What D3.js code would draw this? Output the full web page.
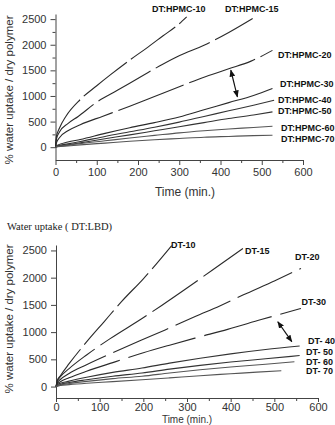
<!DOCTYPE html>
<html><head><meta charset="utf-8">
<script src="https://cdn.jsdelivr.net/npm/d3@7"></script>
<style>html,body{margin:0;padding:0;background:#fff;} svg{display:block;}</style>
</head><body>
<svg id="chart" width="335" height="425"></svg>
<script>
// ---------- data (time in min, % water uptake / dry polymer) ----------
const hpmcNames = ["DT:HPMC-10","DT:HPMC-15","DT:HPMC-20","DT:HPMC-30","DT:HPMC-40","DT:HPMC-50","DT:HPMC-60","DT:HPMC-70"];
const hpmc10 = [[0,0],[2,200],[10,380],[25,600],[60,930],[100,1200],[132,1406],[180,1700],[220,1930],[260,2170],[300,2410],[318,2545]];
const hpmc15 = [[0,0],[2,150],[10,300],[30,460],[55,600],[100,880],[150,1110],[212,1400],[260,1620],[301,1790],[360,1990],[420,2240],[478,2513]];
const hpmc20 = [[0,0],[2,80],[10,190],[30,320],[60,440],[115,605],[180,800],[240,990],[300,1180],[365,1380],[420,1530],[474,1680],[526,1890]];
const hpmc30 = [[0,0],[5,40],[30,100],[60,150],[120,270],[180,380],[240,480],[300,590],[360,730],[420,870],[480,1010],[526,1146]];
const hpmc40 = [[0,0],[5,25],[30,65],[60,110],[120,210],[180,300],[240,390],[300,490],[360,600],[420,710],[480,820],[530,918]];
const hpmc50 = [[0,0],[5,15],[30,45],[60,85],[120,165],[180,240],[240,320],[300,400],[360,480],[420,560],[480,630],[526,690]];
const hpmc60 = [[0,0],[5,12],[30,38],[60,70],[120,125],[180,180],[240,230],[300,280],[360,320],[420,355],[480,385],[526,410]];
const hpmc70 = [[0,0],[5,8],[30,25],[60,45],[120,80],[180,115],[240,145],[300,170],[360,195],[420,210],[480,225],[526,234]];

const dtNames = ["DT-10","DT-15","DT-20","DT-30","DT- 40","DT- 50","DT- 60","DT- 70"];
const dt10 = [[0,0],[3,110],[10,200],[30,420],[70,820],[110,1190],[150,1560],[200,1980],[265,2590]];
const dt15 = [[0,0],[3,100],[10,180],[30,330],[70,580],[124,880],[197,1250],[242,1490],[300,1810],[360,2150],[428,2535]];
const dt20 = [[0,0],[3,70],[10,130],[30,240],[70,400],[130,620],[192,840],[250,1040],[320,1290],[375,1480],[428,1680],[500,1940],[561,2170]];
const dt30 = [[0,0],[3,50],[10,90],[30,160],[70,280],[130,440],[200,620],[260,760],[318,890],[393,1050],[470,1230],[561,1435]];
const dt40 = [[0,0],[3,30],[10,60],[30,100],[70,170],[130,260],[197,340],[260,430],[330,520],[400,600],[480,680],[558,745]];
const dt50 = [[0,0],[10,40],[30,75],[70,125],[130,190],[197,250],[260,320],[330,390],[400,450],[480,510],[558,570]];
const dt60 = [[0,0],[10,30],[30,55],[70,95],[130,145],[197,190],[260,250],[330,310],[400,360],[480,410],[546,455]];
const dt70 = [[0,0],[10,20],[30,35],[70,60],[130,90],[197,125],[260,160],[330,200],[400,235],[460,265],[516,290]];

// arrows (start, end) in data units
const hpmcArrow = [[425,1504],[441,982]];
const dtArrow = [[508,1190],[540,824]];

const xTickValues = [0,100,200,300,400,500,600];
const xMinorTicks = [50,150,250,350,450,550];
const yTickValues = [0,500,1000,1500,2000,2500];
const yMinorTicks = [250,750,1250,1750,2250];
const yTitle = "% water uptake / dry polymer";
const xTitle = "Time (min.)";
const bottomTitle = "Water uptake ( DT:LBD)";

// ---------- drawing ----------
const svg = d3.select("#chart");
const FONT = "'Liberation Sans', Arial, Helvetica, sans-serif";

svg.append("defs").append("marker")
  .attr("id","ah").attr("viewBox","0 0 10 10").attr("refX",9).attr("refY",5)
  .attr("markerWidth",6).attr("markerHeight",6).attr("orient","auto-start-reverse")
  .append("path").attr("d","M0,1 L10,5 L0,9 Z").attr("fill","#111");

function panel(cfg) {
  const g = svg.append("g");
  const x = d3.scaleLinear().domain([0,600]).range(cfg.xr);
  const y = d3.scaleLinear().domain(cfg.yd).range(cfg.yr);
  const fmt = d3.format("d");

  g.append("g").attr("transform",`translate(${cfg.xr[0]},0)`)
    .call(d3.axisLeft(y).tickValues(yTickValues).tickFormat(fmt).tickSize(5).tickSizeOuter(0).tickPadding(4));
  if (cfg.yMinor) {
    g.append("g").attr("transform",`translate(${cfg.xr[0]},0)`)
      .call(d3.axisLeft(y).tickValues(yMinorTicks).tickSize(3).tickFormat(""))
      .select(".domain").remove();
  }
  g.append("g").attr("transform",`translate(0,${cfg.yr[0]})`)
    .call(d3.axisBottom(x).tickValues(xTickValues).tickFormat(fmt).tickSize(cfg.xTick).tickSizeOuter(0).tickPadding(cfg.xPad));
  g.append("g").attr("transform",`translate(0,${cfg.yr[0]})`)
    .call(d3.axisBottom(x).tickValues(xMinorTicks).tickSize(3).tickFormat(""))
    .select(".domain").remove();

  g.selectAll(".domain").attr("stroke","#444");
  g.selectAll(".tick line").attr("stroke","#444");
  g.selectAll(".tick text").attr("font-family",FONT).attr("font-size","11px").attr("fill","#333");

  g.append("text").attr("transform",`translate(${cfg.ytx},${cfg.yty}) rotate(-90)`)
    .attr("text-anchor","middle").attr("dominant-baseline","central")
    .attr("font-family",FONT).attr("font-size","11.5px").attr("fill","#333").text(yTitle);
  g.append("text").attr("x",cfg.xtx).attr("y",cfg.xty)
    .attr("text-anchor","middle").attr("dominant-baseline","central")
    .attr("font-family",FONT).attr("font-size",cfg.xtSize).attr("fill","#333").text(xTitle);

  const line = d3.line().x(d=>x(d[0])).y(d=>y(d[1])).curve(d3.curveMonotoneX);
  cfg.series.forEach((s,i)=>{
    g.append("path").datum(s).attr("d",line).attr("fill","none")
      .attr("stroke", i<4 ? "#2a2a2a" : (i<6 ? "#333" : "#555"))
      .attr("stroke-width", 1.1)
      .attr("stroke-dasharray", cfg.dashed[i] ? cfg.dashed[i] : null);
  });

  cfg.names.forEach((n,i)=>{
    g.append("text").attr("x",cfg.labels[i][0]).attr("y",cfg.labels[i][1])
      .attr("dominant-baseline","central")
      .attr("font-family",FONT).attr("font-weight","bold").attr("font-size","9px")
      .attr("fill","#111").text(n);
  });

  g.append("line")
    .attr("x1",x(cfg.arrow[0][0])).attr("y1",y(cfg.arrow[0][1]))
    .attr("x2",x(cfg.arrow[1][0])).attr("y2",y(cfg.arrow[1][1]))
    .attr("stroke","#111").attr("stroke-width",1.2)
    .attr("marker-start","url(#ah)").attr("marker-end","url(#ah)");
}

panel({
  xr:[55.5,303], yd:[-250,2600], yr:[160,14], yMinor:true, xTick:5, xPad:3,
  ytx:9, yty:90, xtx:185, xty:192, xtSize:"12px",
  series:[hpmc10,hpmc15,hpmc20,hpmc30,hpmc40,hpmc50,hpmc60,hpmc70],
  dashed:["55,5","60,6","70,6",null,null,null,null,null],
  names:hpmcNames,
  labels:[[152,8.5],[225,8.5],[278,54.5],[280,83.5],[278,99.5],[278,111],[281,127.5],[281,138.5]],
  arrow:hpmcArrow
});

panel({
  xr:[56,318], yd:[-210,2600], yr:[398,245], yMinor:false, xTick:4, xPad:1,
  ytx:9, yty:319, xtx:187, xty:419.3, xtSize:"10px",
  series:[dt10,dt15,dt20,dt30,dt40,dt50,dt60,dt70],
  dashed:["45,6","55,7","60,8","70,9",null,null,null,null],
  names:dtNames,
  labels:[[171,244.7],[245,251],[295,257.3],[301.5,301.7],[308,340.7],[306,351.7],[306,361.7],[306,371]],
  arrow:dtArrow
});

svg.append("text").attr("x",7).attr("y",226).attr("dominant-baseline","central")
  .attr("font-family","'Liberation Serif', 'Times New Roman', serif").attr("font-size","10.5px")
  .attr("fill","#222").text(bottomTitle);
</script>
</body></html>
